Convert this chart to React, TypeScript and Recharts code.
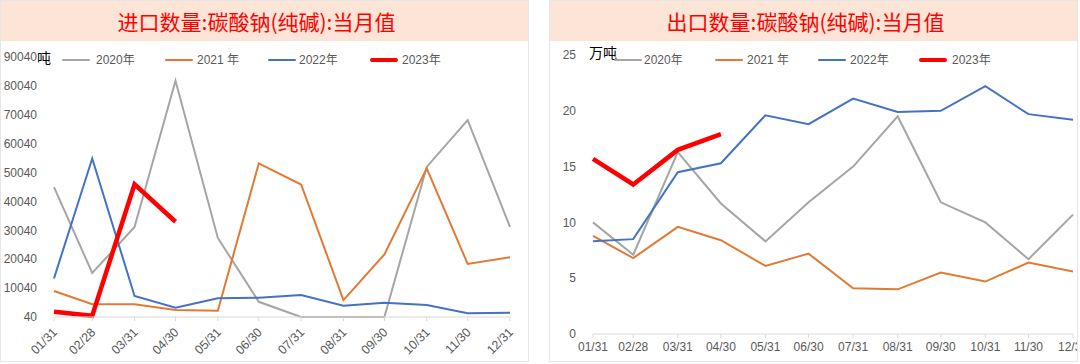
import { Line, LineChart, XAxis, YAxis } from "recharts";

// month-end dates, positioned by day of year (date axis)
const monthEnds = ["01/31", "02/28", "03/31", "04/30", "05/31", "06/30", "07/31", "08/31", "09/30", "10/31", "11/30", "12/31"];
const dayOfYear = [31, 59, 90, 120, 151, 181, 212, 243, 273, 304, 334, 365];

const yearNames = ["2020年", "2021 年", "2022年", "2023年"];
const yearColors = ["#a5a5a5", "#e07a35", "#4472c4", "#ff0000"];
const yearWidths = [2, 2, 2, 4.5];

// 进口 (吨)
const import2020 = [45000, 15300, 31200, 81800, 27400, 5300, 40, 40, 40, 52000, 68200, 31200];
const import2021 = [9040, 4430, 4430, 2460, 2220, 53200, 45900, 5900, 21700, 51500, 18400, 20700];
const import2022 = [13400, 54900, 7300, 3260, 6500, 6700, 7650, 3950, 4990, 4190, 1320, 1530];
const import2023 = [1870, 490, 46000, 33000];
const importTicks = [40, 10040, 20040, 30040, 40040, 50040, 60040, 70040, 80040, 90040];

// 出口 (万吨)
const export2020 = [10.0, 7.1, 16.3, 11.7, 8.3, 11.8, 15.0, 19.5, 11.8, 10.0, 6.7, 10.7];
const export2021 = [8.8, 6.8, 9.6, 8.4, 6.1, 7.2, 4.1, 4.0, 5.5, 4.7, 6.4, 5.6];
const export2022 = [8.3, 8.5, 14.5, 15.3, 19.6, 18.8, 21.1, 19.9, 20.0, 22.2, 19.7, 19.2];
const export2023 = [15.7, 13.4, 16.5, 17.9];
const exportTicks = [0, 5, 10, 15, 20, 25];

const FONT = '"Liberation Sans", Arial, "Noto Sans CJK SC", sans-serif';
const LABEL = "#595959";
const AXIS = "#d9d9d9";

function buildRows(series: number[][]) {
  return dayOfYear.map((day, i) => ({
    day,
    s0: series[0][i],
    s1: series[1][i],
    s2: series[2][i],
    s3: series[3][i],
  }));
}

const labelFor = (d: number) => monthEnds[dayOfYear.indexOf(d)] ?? "";

function SlantTick(props: any) {
  const { x, y, payload } = props;
  const px = x + 4;
  const py = y + 10;
  return (
    <text
      x={px}
      y={py}
      textAnchor="end"
      fill={LABEL}
      fontSize={12.5}
      fontFamily={FONT}
      transform={`rotate(-45 ${px} ${py})`}
    >
      {labelFor(payload.value)}
    </text>
  );
}

type LegendPos = { line: number; text: number };

function Panel(props: {
  left: number;
  width: number;
  title: string;
  unit: string;
  unitX: number;
  unitY: number;
  legend: LegendPos[];
  rows: any[];
  ticks: number[];
  yWidth: number;
  margin: { top: number; right: number; left: number; bottom: number };
  xHeight: number;
  slanted: boolean;
}) {
  const chartW = props.width - 2;
  return (
    <div
      style={{
        position: "absolute",
        left: props.left,
        top: 0,
        width: props.width,
        height: 362,
        boxSizing: "border-box",
        border: "1px solid #e6e6e6",
        background: "#fff",
        overflow: "hidden",
      }}
    >
      <div
        style={{
          height: 40,
          background: "#fce4d6",
          color: "#ff0000",
          fontFamily: '"Noto Sans CJK SC", sans-serif',
          fontSize: 21,
          lineHeight: "40px",
          textAlign: "center",
          paddingRight: 16,
        }}
      >
        {props.title}
      </div>
      <div style={{ position: "absolute", left: 0, top: 40 }}>
        <LineChart width={chartW} height={320} data={props.rows} margin={props.margin}>
          <XAxis
            type="number"
            dataKey="day"
            domain={[31, 365]}
            ticks={dayOfYear}
            interval={0}
            stroke={AXIS}
            tickSize={4}
            tickMargin={props.slanted ? 2 : 4}
            height={props.xHeight}
            tick={props.slanted ? <SlantTick /> : { fill: LABEL, fontSize: 12, fontFamily: FONT }}
            tickFormatter={labelFor}
          />
          <YAxis
            domain={[props.ticks[0], props.ticks[props.ticks.length - 1]]}
            ticks={props.ticks}
            interval={0}
            width={props.yWidth}
            axisLine={false}
            tickLine={false}
            tickSize={6}
            tickMargin={11}
            tick={{ fill: LABEL, fontSize: 12, fontFamily: FONT }}
          />
          {yearNames.map((name, i) => (
            <Line
              key={name}
              type="linear"
              dataKey={`s${i}`}
              name={name}
              stroke={yearColors[i]}
              strokeWidth={yearWidths[i]}
              dot={false}
              isAnimationActive={false}
            />
          ))}
        </LineChart>
      </div>
      <div
        style={{
          position: "absolute",
          left: props.unitX,
          top: props.unitY,
          fontFamily: '"Noto Sans CJK SC", sans-serif',
          fontSize: 14,
          color: "#000",
          lineHeight: "16px",
        }}
      >
        {props.unit}
      </div>
      {props.legend.map((p, i) => (
        <div key={i}>
          <div
            style={{
              position: "absolute",
              left: p.line,
              top: 59 - yearWidths[i] / 2,
              width: 28,
              height: yearWidths[i],
              borderRadius: 3,
              background: yearColors[i],
            }}
          />
          <div
            style={{
              position: "absolute",
              left: p.text,
              top: 51,
              fontFamily: FONT,
              fontSize: 12,
              lineHeight: "16px",
              color: LABEL,
              whiteSpace: "pre",
            }}
          >
            {yearNames[i]}
          </div>
        </div>
      ))}
    </div>
  );
}

export default function App() {
  const importRows = buildRows([import2020, import2021, import2022, import2023]);
  const exportRows = buildRows([export2020, export2021, export2022, export2023]);
  return (
    <div style={{ position: "fixed", left: 0, top: 0, width: 1080, height: 364, background: "#fff" }}>
      <Panel
        left={0}
        width={529}
        title="进口数量:碳酸钠(纯碱):当月值"
        unit="吨"
        unitX={36}
        unitY={48}
        legend={[
          { line: 61, text: 95 },
          { line: 164, text: 196 },
          { line: 267, text: 298 },
          { line: 369, text: 401 },
        ]}
        rows={importRows}
        ticks={importTicks}
        yWidth={53}
        margin={{ top: 16, right: 18, left: 0, bottom: 0 }}
        xHeight={44}
        slanted
      />
      <Panel
        left={549}
        width={529}
        title="出口数量:碳酸钠(纯碱):当月值"
        unit="万吨"
        unitX={39}
        unitY={43}
        legend={[
          { line: 64, text: 94 },
          { line: 165, text: 197 },
          { line: 268, text: 300 },
          { line: 369, text: 402 },
        ]}
        rows={exportRows}
        ticks={exportTicks}
        yWidth={43}
        margin={{ top: 14, right: 4, left: 0, bottom: 0 }}
        xHeight={27}
        slanted={false}
      />
    </div>
  );
}
